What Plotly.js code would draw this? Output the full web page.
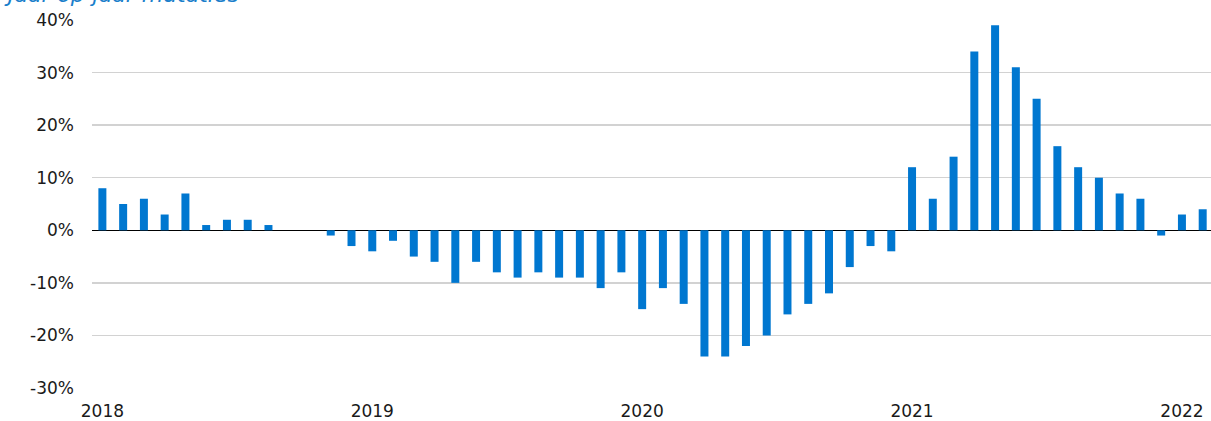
<!DOCTYPE html>
<html>
<head>
<meta charset="utf-8">
<script src="https://cdn.plot.ly/plotly-3.0.1.min.js"></script>
<style>html,body{margin:0;padding:0;background:#fff;}#chart{width:1211px;height:421px;}</style>
</head>
<body>
<div id="chart"></div>
<script>
// Four-week periods (13 per year), 2018 P1 .. 2022 P2
var periods = [
  "2018 P1","2018 P2","2018 P3","2018 P4","2018 P5","2018 P6","2018 P7","2018 P8","2018 P9","2018 P10","2018 P11","2018 P12","2018 P13",
  "2019 P1","2019 P2","2019 P3","2019 P4","2019 P5","2019 P6","2019 P7","2019 P8","2019 P9","2019 P10","2019 P11","2019 P12","2019 P13",
  "2020 P1","2020 P2","2020 P3","2020 P4","2020 P5","2020 P6","2020 P7","2020 P8","2020 P9","2020 P10","2020 P11","2020 P12","2020 P13",
  "2021 P1","2021 P2","2021 P3","2021 P4","2021 P5","2021 P6","2021 P7","2021 P8","2021 P9","2021 P10","2021 P11","2021 P12","2021 P13",
  "2022 P1","2022 P2"
];
// Year-on-year change, %
var mutaties = [
  8, 5, 6, 3, 7, 1, 2, 2, 1, 0, 0, -1, -3,
  -4, -2, -5, -6, -10, -6, -8, -9, -8, -9, -9, -11, -8,
  -15, -11, -14, -24, -24, -22, -20, -16, -14, -12, -7, -3, -4,
  12, 6, 14, 34, 39, 31, 25, 16, 12, 10, 7, 6, -1,
  3, 4
];
var yearTickVals = ["2018 P1","2019 P1","2020 P1","2021 P1","2022 P1"];
var yearTickText = ["2018","2019","2020","2021","2022"];
var yTickVals = [-30,-20,-10,0,10,20,30,40];
var yTickText = ["-30%","-20%","-10%","0%","10%","20%","30%","40%"];
var titleText = "Jaar-op-jaar mutaties";

var font = "DejaVu Sans, Verdana, sans-serif";

var trace = {
  type: "bar",
  x: periods,
  y: mutaties,
  marker: {color: "#0077D0", line: {width: 0}},
  hoverinfo: "x+y"
};

var layout = {
  width: 1211,
  height: 421,
  margin: {l: 92, r: 0, t: 20, b: 33, pad: 0},
  paper_bgcolor: "#ffffff",
  plot_bgcolor: "#ffffff",
  showlegend: false,
  bargap: 0.615,
  font: {family: font, size: 17, color: "#1a1a1a"},
  xaxis: {
    type: "category",
    range: [-0.5, 53.4],
    tickmode: "array",
    tickvals: yearTickVals,
    ticktext: yearTickText,
    showgrid: false,
    showline: false,
    zeroline: false,
    ticks: "",
    ticklabelstandoff: 11,
    tickfont: {family: font, size: 17, color: "#1a1a1a"},
    fixedrange: true
  },
  yaxis: {
    range: [-30, 40],
    tickmode: "array",
    tickvals: yTickVals,
    ticktext: yTickText,
    showgrid: true,
    gridcolor: "#d2d2d2",
    gridwidth: 1.5,
    zeroline: true,
    zerolinecolor: "#000000",
    zerolinewidth: 1.5,
    showline: false,
    ticks: "",
    ticklabelstandoff: 17,
    tickfont: {family: font, size: 17, color: "#1a1a1a"},
    fixedrange: true
  },
  annotations: [{
    text: titleText,
    xref: "paper", yref: "paper",
    x: -0.08, y: 1.0,
    xanchor: "left", yanchor: "bottom",
    yshift: 11,
    showarrow: false,
    font: {family: font, size: 22, color: "#1B7FCB", style: "italic"}
  }]
};

Plotly.newPlot("chart", [trace], layout, {displayModeBar: false, staticPlot: true});
</script>
</body>
</html>
